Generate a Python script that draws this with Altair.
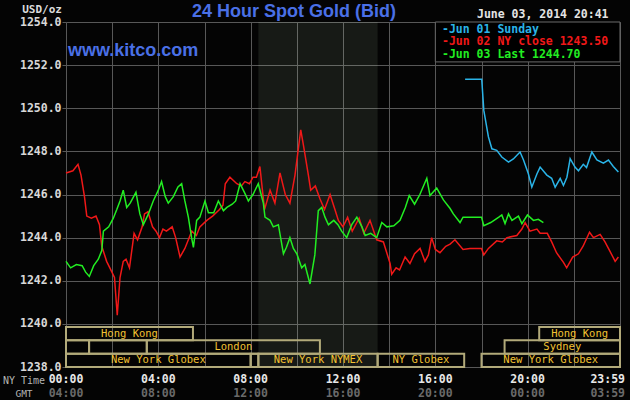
import altair as alt
import pandas as pd

# ---------------- data ----------------
red_t = [0.0, 0.3, 0.52, 0.65, 0.8, 0.9, 1.1, 1.3, 1.45, 1.55, 1.76, 1.9, 2.1, 2.22, 2.34, 2.48, 2.6, 2.75,
         2.95, 3.1, 3.3, 3.4, 3.55, 3.75, 3.9, 4.05, 4.2, 4.35, 4.6, 4.75, 4.94, 5.15, 5.3, 5.45, 5.65, 5.8,
         6.1, 6.35, 6.65, 6.8, 6.9, 7.1, 7.4, 7.6, 7.75, 7.95, 8.1, 8.25, 8.4, 8.6, 8.84, 9.05, 9.27, 9.5,
         9.7, 9.92, 10.17, 10.3, 10.5, 10.6, 10.8, 11.0, 11.2, 11.44, 11.65, 11.8, 12.0, 12.2, 12.4, 12.7,
         12.9, 13.17, 13.46, 13.75, 14.04, 14.11, 14.3, 14.45, 14.69, 14.9, 15.1, 15.34, 15.55, 15.7, 15.84,
         16.0, 16.2, 16.45, 16.64, 16.85, 17.2, 17.5, 18.0, 18.1, 18.3, 18.66, 18.9, 19.1, 19.53, 19.75,
         19.89, 20.1, 20.4, 20.54, 20.85, 21.04, 21.25, 21.55, 21.69, 21.95, 22.2, 22.4, 22.68, 22.85, 23.14,
         23.35, 23.55, 23.79, 23.93]
red_v = [1247.0, 1247.1, 1247.4, 1246.9, 1245.9, 1245.0, 1244.9, 1245.0, 1244.6, 1243.6, 1242.9, 1242.6,
         1242.15, 1240.4, 1242.15, 1242.9, 1243.0, 1242.6, 1244.2, 1243.9, 1244.5, 1245.1, 1245.2, 1244.5,
         1244.3, 1244.0, 1244.4, 1244.3, 1244.5, 1244.0, 1243.1, 1243.5, 1243.9, 1244.3, 1244.1, 1244.5,
         1244.8, 1245.0, 1245.3, 1245.5, 1246.5, 1246.8, 1246.5, 1246.4, 1246.6, 1246.5, 1246.8, 1246.8,
         1247.3, 1245.3, 1246.2, 1245.6, 1247.0, 1246.0, 1245.6, 1246.9, 1249.0, 1248.2, 1246.9, 1246.2,
         1246.4, 1245.8, 1245.3, 1246.0, 1245.3, 1244.8, 1244.5, 1244.95, 1244.3, 1244.9, 1244.2, 1244.8,
         1243.9, 1243.8, 1242.8, 1242.3, 1242.6, 1242.5, 1243.1, 1242.8, 1243.25, 1243.5, 1242.9, 1243.2,
         1244.0, 1243.45, 1243.3, 1243.6, 1243.7, 1243.9, 1243.45, 1243.5, 1243.5, 1243.2, 1243.5, 1243.85,
         1243.8, 1244.0, 1244.1, 1244.4, 1244.7, 1244.3, 1244.4, 1244.2, 1244.2, 1243.8, 1243.3, 1242.85,
         1242.6, 1243.1, 1243.25, 1243.6, 1244.25, 1244.0, 1244.15, 1243.8, 1243.4, 1242.9, 1243.1]

green_t = [0.0, 0.2, 0.45, 0.7, 0.85, 1.01, 1.2, 1.4, 1.55, 1.62, 1.85, 2.05, 2.2, 2.34, 2.48, 2.63, 2.78,
           3.03, 3.2, 3.35, 3.57, 3.78, 4.0, 4.14, 4.3, 4.43, 4.65, 4.85, 5.01, 5.15, 5.3, 5.44, 5.52, 5.66,
           5.8, 6.02, 6.17, 6.4, 6.6, 6.82, 6.97, 7.2, 7.35, 7.54, 7.75, 7.9, 8.1, 8.33, 8.55, 8.62, 8.84,
           8.98, 9.2, 9.42, 9.55, 9.7, 9.85, 10.0, 10.21, 10.35, 10.57, 10.78, 10.93, 11.08, 11.22, 11.37,
           11.6, 11.78, 11.94, 12.16, 12.38, 12.6, 12.82, 12.96, 13.2, 13.46, 13.68, 13.9, 14.2, 14.47, 14.7,
           14.87, 15.1, 15.33, 15.63, 15.77, 16.06, 16.35, 16.64, 16.78, 17.07, 17.2, 18.0, 18.1, 18.4,
           18.75, 18.88, 19.02, 19.17, 19.32, 19.6, 19.75, 19.99, 20.25, 20.46, 20.68]
green_v = [1242.9, 1242.6, 1242.75, 1242.7, 1242.4, 1242.2, 1242.7, 1243.0, 1243.4, 1244.3, 1244.5, 1244.9,
           1245.3, 1245.7, 1246.2, 1245.4, 1245.6, 1246.1, 1245.1, 1244.6, 1245.1, 1245.7, 1246.2, 1246.6,
           1245.9, 1245.6, 1245.9, 1246.35, 1246.5, 1245.7, 1244.95, 1244.0, 1243.55, 1244.8, 1244.95,
           1245.7, 1245.15, 1245.15, 1245.7, 1245.25, 1245.4, 1245.55, 1245.7, 1246.5, 1246.05, 1245.7,
           1246.0, 1246.5, 1245.6, 1244.95, 1244.8, 1244.5, 1244.6, 1243.25, 1243.55, 1244.0, 1243.5,
           1243.25, 1242.6, 1242.75, 1241.85, 1243.2, 1245.25, 1245.4, 1244.95, 1244.6, 1244.8, 1244.6,
           1244.3, 1244.0, 1244.6, 1244.95, 1244.5, 1244.1, 1244.2, 1244.0, 1244.7, 1244.5, 1244.55, 1244.8,
           1245.4, 1245.95, 1245.55, 1246.0, 1246.75, 1245.95, 1246.3, 1245.75, 1245.35, 1245.1, 1244.7,
           1244.95, 1244.95, 1244.55, 1244.7, 1244.95, 1245.05, 1244.65, 1245.1, 1244.8, 1245.0, 1244.65,
           1245.05, 1244.8, 1244.85, 1244.7]

cyan_t = [17.29, 18.01, 18.1, 18.3, 18.45, 18.66, 18.88, 19.17, 19.38, 19.67, 19.82, 20.03, 20.18, 20.4,
          20.54, 20.83, 21.04, 21.19, 21.41, 21.55, 21.7, 21.84, 22.05, 22.2, 22.41, 22.55, 22.78, 23.0,
          23.28, 23.5, 23.71, 23.93]
cyan_v = [1251.35, 1251.35, 1249.9, 1248.67, 1248.12, 1248.05, 1247.74, 1247.5, 1247.65, 1247.97, 1247.6,
          1246.96, 1246.34, 1246.95, 1247.27, 1246.9, 1246.75, 1246.34, 1246.75, 1246.42, 1246.8, 1247.66,
          1247.27, 1247.1, 1247.4, 1247.25, 1247.97, 1247.6, 1247.45, 1247.6, 1247.3, 1247.04]

legend_labels = ["-Jun 01 Sunday", "-Jun 02 NY close 1243.50", "-Jun 03 Last 1244.70"]

sess_row = [1, 1, 2, 2, 2, 2, 3, 3, 3, 3, 3]
sess_start = [0.0, 20.5, 0.0, 1.0, 3.5, 19.0, 0.0, 8.0, 8.333, 13.5, 18.0]
sess_end = [5.5, 24.0, 1.0, 3.5, 11.0, 24.0, 8.0, 8.333, 13.5, 17.25, 24.0]
sess_label = ["Hong Kong", "Hong Kong", "", "", "London", "Sydney",
              "New York Globex", "", "New York NYMEX", "NY Globex", "New York Globex"]

nymex_start, nymex_end = 8.333, 13.5
y_ticks = [1238, 1240, 1242, 1244, 1246, 1248, 1250, 1252, 1254]
x_grid = [0, 2, 4, 6, 8, 10, 12, 14, 16, 18, 20, 22, 24]
ny_hours = [0, 4, 8, 12, 16, 20]
ny_labels = ["00:00", "04:00", "08:00", "12:00", "16:00", "20:00"]
gmt_labels = ["04:00", "08:00", "12:00", "16:00", "20:00", "00:00"]
end_hour = 24
ny_end_label = "23:59"
gmt_end_label = "03:59"

# ---------------- styles ----------------
BG = "#040404"
GRID = "#585858"
MONO = "DejaVu Sans Mono"
SANS = "Liberation Sans"
BLUE = "#4a70e6"
RED = "#f01818"
GREEN = "#22ee22"
CYAN = "#2ab4e8"
W, H = 554, 345

xscale = alt.Scale(domain=[0, 24], nice=False, zero=False)
yscale = alt.Scale(domain=[1238, 1254], nice=False, zero=False)
xaxis = alt.Axis(values=x_grid, grid=True, gridColor=GRID, gridWidth=1, labels=False, ticks=False,
                 domain=False, title=None)
yaxis = alt.Axis(values=y_ticks, format=".1f", grid=True, gridColor=GRID, gridWidth=1, labelFont=MONO,
                 labelFontSize=11.5, labelFontWeight="bold", labelColor="#d8d8d8", tickSize=4,
                 tickColor=GRID, domain=False, labelPadding=1, title=None)


def X(f):
    return alt.X(f, type="quantitative", scale=xscale, axis=xaxis)


def Y(f):
    return alt.Y(f, type="quantitative", scale=yscale, axis=yaxis)


def series(ts, vs, color):
    df = pd.DataFrame({"t": ts, "v": vs})
    return alt.Chart(df).mark_line(color=color, strokeWidth=1.5).encode(x=X("t"), y=Y("v"))


one = pd.DataFrame({"a": [0]})

shade = alt.Chart(pd.DataFrame({"s": [nymex_start], "e": [nymex_end]})).mark_rect(
    color="#e0ffd0", opacity=0.09).encode(x=X("s"), x2="e")

red = series(red_t, red_v, RED)
green = series(green_t, green_v, GREEN)
cyan = series(cyan_t, cyan_v, CYAN)

legend_box = alt.Chart(pd.DataFrame({"x1": [16], "x2": [24], "y1": [1252.15], "y2": [1254]})).mark_rect(
    fill="#000000", stroke="#6a6a6a", strokeWidth=1).encode(x=X("x1"), x2="x2", y=Y("y1"), y2="y2")


def txt(s, x, y, **kw):
    return alt.Chart(one).mark_text(text=s, **kw).encode(x=alt.value(x), y=alt.value(y))


leg_colors = [CYAN, RED, GREEN]
leg_base = [10.7, 23.2, 35.7]
legend_texts = [txt(lbl, 376, yb, font=MONO, fontSize=11.5, fontWeight="bold", color=c, align="left",
                    baseline="alphabetic")
                for lbl, c, yb in zip(legend_labels, leg_colors, leg_base)]

title = txt("24 Hour Spot Gold (Bid)", 228, -5, font=SANS, fontSize=18, fontWeight="bold", color=BLUE,
            align="center", baseline="alphabetic")
kitco = txt("www.kitco.com", 2, 33.5, font=SANS, fontSize=18, fontWeight="bold", color=BLUE,
            align="left", baseline="alphabetic")
usd = txt("USD/oz", -4, -9.5, font=MONO, fontSize=11, fontWeight="bold", color="#dcdcdc",
          align="right", baseline="alphabetic")
date = txt("June 03, 2014 20:41", 411, -3.7, font=MONO, fontSize=11.5, fontWeight="bold", color="#e4e4e4",
           align="left", baseline="alphabetic")
nytime = txt("NY Time", -42, 362, font=MONO, fontSize=10, color="#b4b4b4", align="center",
             baseline="alphabetic")
gmt = txt("GMT", -42, 375, font=MONO, fontSize=9.5, color="#b4b4b4", align="center", baseline="alphabetic")

lab_df = pd.DataFrame({"h": ny_hours, "ny": ny_labels, "gmt": gmt_labels})
ny_text = alt.Chart(lab_df).mark_text(font=MONO, fontSize=11.5, fontWeight="bold", color="#e8e8e8",
                                      baseline="alphabetic").encode(x=X("h"), y=alt.value(361), text="ny:N")
gmt_text = alt.Chart(lab_df).mark_text(font=MONO, fontSize=11.5, fontWeight="bold", color="#6a6a6a",
                                       baseline="alphabetic").encode(x=X("h"), y=alt.value(375), text="gmt:N")
end_df = pd.DataFrame({"h": [end_hour], "ny": [ny_end_label], "gmt": [gmt_end_label]})
ny_end = alt.Chart(end_df).mark_text(font=MONO, fontSize=11.5, fontWeight="bold", color="#e8e8e8",
                                     baseline="alphabetic", align="right", dx=5).encode(
    x=X("h"), y=alt.value(361), text="ny:N")
gmt_end = alt.Chart(end_df).mark_text(font=MONO, fontSize=11.5, fontWeight="bold", color="#6a6a6a",
                                      baseline="alphabetic", align="right", dx=5).encode(
    x=X("h"), y=alt.value(375), text="gmt:N")

# sessions (own vertical scale: one unit per row)
sess_df = pd.DataFrame({"row": sess_row, "s": sess_start, "e": sess_end, "label": sess_label})
sess_df["lo"] = 3 - sess_df["row"]
sess_df["hi"] = sess_df["lo"] + 1
sess_df["ym"] = sess_df["lo"] + 0.5
sess_df["mid"] = (sess_df["s"] + sess_df["e"]) / 2
rowscale = alt.Scale(domain=[0, 25.9], nice=False, zero=False)
sess_rect = alt.Chart(sess_df).mark_rect(fillOpacity=0, stroke="#b2aa7a", strokeWidth=2).encode(
    x=X("s"), x2="e", y=alt.Y("lo:Q", scale=rowscale, axis=None), y2="hi")
sess_text = alt.Chart(sess_df).mark_text(font=MONO, fontSize=10.5, color="#f2c232", baseline="middle").encode(
    x=X("mid"), y=alt.Y("ym:Q", scale=rowscale, axis=None), text="label:N")

main = alt.layer(shade, red, green, cyan, legend_box, *legend_texts, title, kitco, usd, date, nytime, gmt,
                 ny_text, gmt_text, ny_end, gmt_end)
sess = alt.layer(sess_rect, sess_text)

chart = alt.layer(main, sess).resolve_scale(y="independent").properties(
    width=W, height=H,
    autosize=alt.AutoSizeParams(type="none"),
    padding={"left": 66, "top": 22, "right": 10, "bottom": 33},
    background=BG,
).configure_view(strokeWidth=0)

chart.save("out.html", embed_options={"renderer": "svg", "actions": False})
